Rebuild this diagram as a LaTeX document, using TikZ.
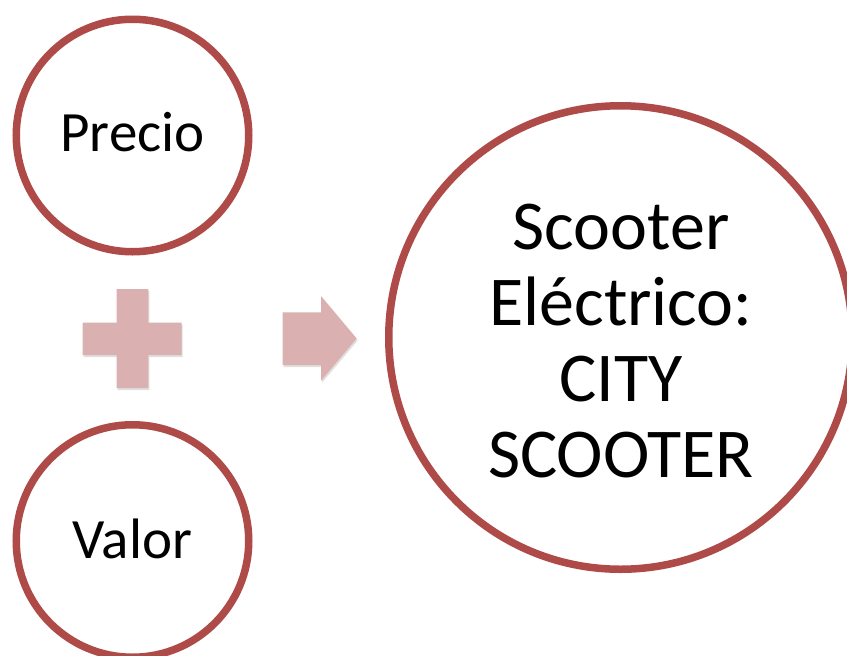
\documentclass[tikz,border=0pt]{standalone}
\usepackage{fontspec}
\setmainfont{Carlito}
\usetikzlibrary{shadows}
\definecolor{ringcol}{RGB}{174,74,71}
\definecolor{pinkfill}{RGB}{219,176,176}
\begin{document}
\begin{tikzpicture}[x=1pt,y=-1pt,
  ring/.style={circle, draw=ringcol, line width=7.5pt, fill=white, inner sep=0pt,
    drop shadow={opacity=0.18, shadow xshift=-1pt, shadow yshift=-3pt}},
  pinkshape/.style={fill=pinkfill, draw=none,
    drop shadow={opacity=0.25, shadow xshift=1pt, shadow yshift=-2pt}},
  smalltext/.style={font=\fontsize{57}{68}\selectfont, text=black},
  bigtext/.style={font=\fontsize{70}{76}\selectfont, text=black, align=center}]
\useasboundingbox (0,0) rectangle (847,656);
\clip (0,0) rectangle (847,656);
\fill[white] (0,0) rectangle (847,656);
% circles
\node[ring, minimum size=232.5pt] (precio) at (132.5,135.5) {};
\node[ring, minimum size=232.5pt] (valor) at (132.5,541) {};
\node[ring, minimum size=463.5pt] (scooter) at (620.5,337.5) {};
% plus sign
\path[pinkshape] (82.7,322.7) -- (116.7,322.7) -- (116.7,289) -- (148.3,289)
  -- (148.3,322.7) -- (181.7,322.7) -- (181.7,355) -- (148.3,355)
  -- (148.3,388) -- (116.7,388) -- (116.7,355) -- (82.7,355) -- cycle;
% arrow
\path[pinkshape] (282.7,312.3) -- (321,312.3) -- (321,296) -- (356.7,338.5)
  -- (321,380.7) -- (321,365) -- (282.7,365) -- cycle;
% texts
\node[smalltext, anchor=base] (ptext) at (132.5,151.7) {Precio};
\node[smalltext, anchor=base] (vtext) at (132.5,558) {Valor};
\node[bigtext, anchor=center] (stext) at (621,341) {Scooter\\Eléctrico:\\CITY\\SCOOTER};
\end{tikzpicture}
\end{document}
